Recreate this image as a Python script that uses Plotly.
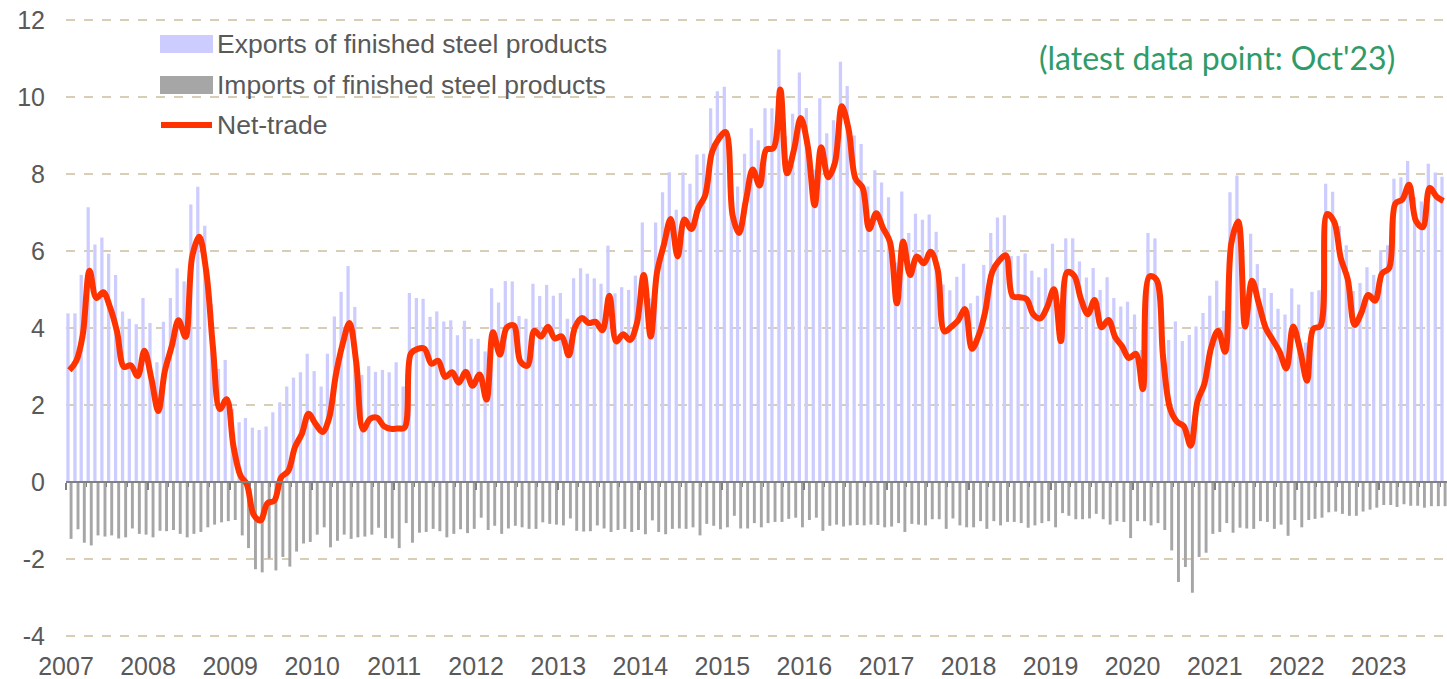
"""Monthly exports, imports and net trade of finished steel products, 2007-2023."""
import pandas as pd
import plotly.graph_objects as go

# Monthly data, Jan 2007 .. Oct 2023
months = pd.date_range("2007-01-01", "2023-10-01", freq="MS")

exports = [
    4.38, 4.38, 5.38, 7.14, 6.17, 6.35, 5.93, 5.38, 4.43, 4.24, 4.10, 4.78,    # 2007
    4.13, 3.11, 4.16, 4.78, 5.55, 5.21, 7.21, 7.67, 6.66, 4.62, 2.94, 3.17,    # 2008
    1.90, 1.55, 1.66, 1.41, 1.35, 1.44, 1.81, 2.07, 2.48, 2.71, 2.85, 3.33,    # 2009
    2.88, 2.48, 3.33, 4.30, 4.94, 5.61, 4.55, 2.78, 3.01, 2.86, 2.91, 2.85,    # 2010
    3.11, 2.48, 4.91, 4.78, 4.76, 4.29, 4.43, 4.17, 4.20, 3.81, 4.19, 3.72,    # 2011
    3.72, 3.39, 5.03, 4.66, 5.22, 5.21, 4.31, 4.24, 5.15, 4.83, 5.12, 4.84,    # 2012
    4.91, 4.24, 5.29, 5.55, 5.41, 5.29, 5.15, 6.14, 4.90, 5.06, 4.99, 5.36,    # 2013
    6.74, 4.78, 6.74, 7.53, 8.05, 7.07, 8.04, 7.75, 8.51, 8.53, 9.71, 10.15,   # 2014
    10.27, 7.80, 7.68, 8.53, 9.19, 8.88, 9.71, 9.71, 11.24, 8.98, 9.57, 10.64, # 2015
    9.72, 8.12, 9.97, 9.06, 9.40, 10.92, 10.29, 9.00, 8.78, 7.68, 8.10, 7.78,  # 2016
    7.40, 5.71, 7.55, 6.47, 6.97, 6.81, 6.95, 6.50, 5.13, 4.98, 5.33, 5.67,    # 2017
    4.64, 4.84, 5.64, 6.47, 6.87, 6.93, 5.87, 5.87, 5.94, 5.49, 5.32, 5.55,    # 2018
    6.19, 4.47, 6.33, 6.33, 5.73, 5.31, 5.56, 4.99, 5.32, 4.78, 4.56, 4.68,    # 2019
    4.35, 3.43, 6.47, 6.33, 4.50, 3.69, 4.17, 3.66, 3.82, 4.04, 4.39, 4.84,    # 2020
    5.23, 4.45, 7.53, 7.96, 5.25, 6.45, 5.66, 5.04, 4.91, 4.50, 4.35, 5.03,    # 2021
    4.61, 3.62, 4.94, 4.98, 7.75, 7.54, 6.65, 6.15, 4.96, 5.17, 5.58, 5.38,    # 2022
    6.02, 6.15, 7.88, 7.92, 8.34, 7.40, 7.29, 8.27, 8.04, 7.93,                # 2023
]

imports = [
    -1.48, -1.23, -1.58, -1.65, -1.39, -1.42, -1.39, -1.47, -1.44, -1.21, -1.35, -1.37,  # 2007
    -1.44, -1.27, -1.28, -1.25, -1.35, -1.44, -1.35, -1.30, -1.18, -1.11, -1.05, -1.02,  # 2008
    -0.99, -1.39, -1.72, -2.27, -2.35, -1.99, -2.30, -1.95, -2.20, -1.81, -1.60, -1.56,  # 2009
    -1.37, -1.18, -1.70, -1.53, -1.37, -1.48, -1.44, -1.42, -1.37, -1.19, -1.46, -1.47,  # 2010
    -1.72, -1.07, -1.58, -1.32, -1.30, -1.22, -1.28, -1.44, -1.35, -1.23, -1.33, -1.22,  # 2011
    -0.93, -1.25, -1.14, -1.35, -1.21, -1.14, -1.18, -1.22, -1.22, -1.05, -1.09, -1.11,  # 2012
    -1.13, -0.95, -1.27, -1.29, -1.28, -1.13, -1.21, -1.30, -1.25, -1.22, -1.30, -1.25,  # 2013
    -1.36, -1.00, -1.30, -1.36, -1.22, -1.21, -1.22, -1.18, -1.39, -1.09, -1.14, -1.23,  # 2014
    -1.18, -0.88, -1.21, -1.21, -1.07, -1.18, -1.07, -1.04, -1.04, -0.96, -0.93, -1.18,  # 2015
    -0.99, -0.93, -1.27, -1.14, -1.11, -1.16, -1.13, -1.12, -1.13, -1.11, -1.12, -1.18,  # 2016
    -1.16, -1.07, -1.30, -1.09, -1.11, -1.13, -0.97, -0.97, -1.22, -0.95, -1.13, -1.18,  # 2017
    -1.18, -1.02, -1.22, -1.02, -1.13, -1.04, -1.04, -1.07, -1.19, -1.13, -1.07, -1.02,  # 2018
    -1.18, -0.81, -0.88, -0.97, -0.97, -0.95, -0.83, -0.97, -1.11, -1.02, -1.04, -1.46,  # 2019
    -1.02, -1.02, -1.13, -1.07, -1.25, -1.78, -2.60, -2.21, -2.88, -1.95, -1.84, -1.35,  # 2020
    -1.30, -1.07, -1.32, -1.19, -1.21, -1.22, -1.02, -1.04, -1.22, -1.11, -1.40, -0.99,  # 2021
    -1.18, -0.99, -0.96, -0.93, -0.79, -0.77, -0.83, -0.88, -0.88, -0.77, -0.72, -0.67,  # 2022
    -0.60, -0.60, -0.65, -0.58, -0.62, -0.62, -0.67, -0.63, -0.63, -0.63,                # 2023
]

# Net trade is exports minus imports (imports are stored as negatives)
net_trade = [round(e + i, 2) for e, i in zip(exports, imports)]

y_ticks = [-4, -2, 0, 2, 4, 6, 8, 10, 12]
y_tick_text = [str(v) for v in y_ticks]  # plain hyphen minus, as in the original

EXPORT_COLOR = "#CCCCFF"
IMPORT_COLOR = "#A6A6A6"
NET_COLOR = "#FF3300"
TEXT_COLOR = "#595959"
AXIS_COLOR = "#808080"
GRID_COLOR = "#D8CDB5"
FONT = "Liberation Sans, Arial, sans-serif"

DAY = 24 * 3600 * 1000
x_range = ["2007-01-01", "2023-11-01"]
# a hair of padding so the gridlines at 12 and -4 are still drawn
y_range = [-4.03, 12.03]

# Figure size / margins in pixels, used for placing the legend
W, H = 1447, 679
ML, MR, MT, MB = 66, 0, 19, 42


def px_x(x):
    return (x - ML) / (W - ML - MR)


def px_y(y):
    return (H - MB - y) / (H - MT - MB)


fig = go.Figure()

fig.add_trace(go.Bar(
    x=months, y=exports, name="Exports of finished steel products",
    offset=1.5 * DAY, width=14.5 * DAY,
    marker=dict(color=EXPORT_COLOR, line=dict(width=0)),
))
fig.add_trace(go.Bar(
    x=months, y=imports, name="Imports of finished steel products",
    offset=16 * DAY, width=13 * DAY,
    marker=dict(color=IMPORT_COLOR, line=dict(width=0)),
))
fig.add_trace(go.Scatter(
    x=months + pd.Timedelta(days=15), y=net_trade, name="Net-trade",
    mode="lines", xaxis="x2",
    line=dict(color=NET_COLOR, width=6, shape="spline", smoothing=1.0),
))

zero_pos = (0 - y_range[0]) / (y_range[1] - y_range[0])

fig.update_layout(
    width=W, height=H,
    margin=dict(l=ML, r=MR, t=MT, b=MB),
    plot_bgcolor="white", paper_bgcolor="white",
    barmode="overlay",
    showlegend=False,
    font=dict(family=FONT, color=TEXT_COLOR),
    xaxis=dict(
        type="date", range=x_range,
        tick0="2007-01-01", dtick="M12", tickformat="%Y",
        ticks="", showgrid=False, showline=False, zeroline=False,
        tickfont=dict(size=25, color=TEXT_COLOR, family=FONT),
        ticklabelstandoff=12,
    ),
    xaxis2=dict(
        type="date", range=x_range, overlaying="x", anchor="free", position=zero_pos,
        tick0="2007-01-01", dtick="M12",
        showticklabels=False, showgrid=False, zeroline=False,
        showline=True, linecolor=AXIS_COLOR, linewidth=1.5,
        ticks="outside", ticklen=7, tickwidth=1.5, tickcolor=AXIS_COLOR,
        minor=dict(ticks="outside", tick0="2007-01-01", dtick="M3",
                   ticklen=4, tickwidth=1.2, tickcolor=AXIS_COLOR, showgrid=False),
    ),
    yaxis=dict(
        range=y_range, tickmode="array", tickvals=y_ticks, ticktext=y_tick_text,
        showgrid=True, gridcolor=GRID_COLOR, gridwidth=1.5, griddash="dash",
        zeroline=False, showline=False, ticks="",
        tickfont=dict(size=25, color=TEXT_COLOR, family=FONT),
        ticklabelstandoff=20,
    ),
)

# Legend drawn as swatches + labels, like the original
legend_items = [
    ("rect", EXPORT_COLOR, "Exports of finished steel products", 44),
    ("rect", IMPORT_COLOR, "Imports of finished steel products", 85),
    ("line", NET_COLOR, "Net-trade", 125),
]
for kind, color, label, yc in legend_items:
    if kind == "rect":
        fig.add_shape(type="rect", xref="paper", yref="paper",
                      x0=px_x(160), x1=px_x(213), y0=px_y(yc + 9), y1=px_y(yc - 9),
                      fillcolor=color, line=dict(width=0))
    else:
        fig.add_shape(type="line", xref="paper", yref="paper",
                      x0=px_x(161), x1=px_x(212), y0=px_y(yc), y1=px_y(yc),
                      line=dict(color=color, width=6))
    fig.add_annotation(x=px_x(215), y=px_y(yc), xref="paper", yref="paper",
                       text=label, showarrow=False, xanchor="left", yanchor="middle",
                       font=dict(size=26.5, color=TEXT_COLOR, family=FONT))

fig.add_annotation(
    x=px_x(1397), y=px_y(57), xref="paper", yref="paper",
    text="(latest data point: Oct'23)", showarrow=False,
    xanchor="right", yanchor="middle",
    font=dict(size=32, color="#2F9B69", family="Lato, Noto Sans, sans-serif"),
)

# drop the default page margin so the figure sits at the window's top-left corner
fig.write_html(
    "out.html",
    config={"displayModeBar": False},
    post_script="document.body.style.margin='0px';document.body.style.overflow='hidden';",
)
